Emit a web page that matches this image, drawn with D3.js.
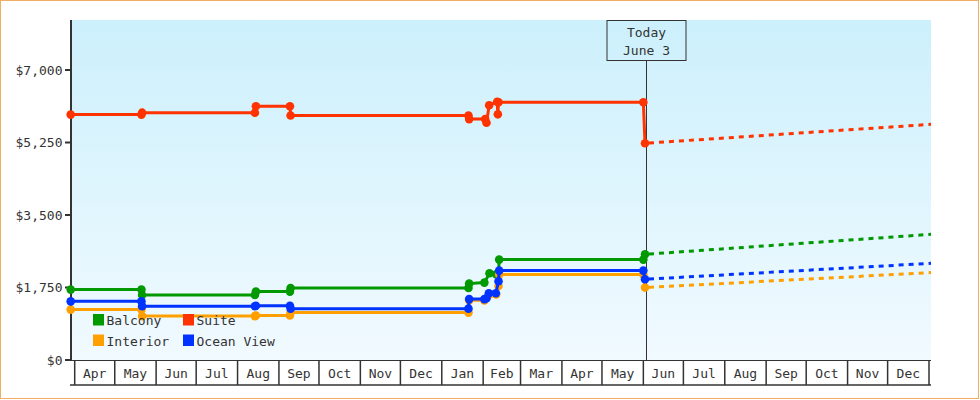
<!DOCTYPE html>
<html>
<head>
<meta charset="utf-8">
<script src="https://cdn.jsdelivr.net/npm/d3@7"></script>
<style>
  html, body { margin: 0; padding: 0; background: #fff; }
  svg { display: block; }
  text { font-family: "DejaVu Sans Mono", monospace; font-size: 13px; fill: #333; }
</style>
</head>
<body>
<svg id="chart" width="980" height="400"></svg>
<script>
// ---------------- DATA ----------------
const seriesNames = ["Balcony", "Suite", "Interior", "Ocean View"];

const balconyPrices = [
  ["2022-03-29 00", 1699], ["2022-05-21 00", 1699], ["2022-05-21 12", 1569],
  ["2022-08-14 00", 1569], ["2022-08-14 18", 1651], ["2022-09-09 06", 1651],
  ["2022-09-09 18", 1738], ["2023-01-21 00", 1738], ["2023-01-21 12", 1844],
  ["2023-02-01 22", 1868], ["2023-02-05 18", 2094], ["2023-02-10 18", 2070],
  ["2023-02-12 12", 2070], ["2023-02-13 00", 2423], ["2023-06-01 00", 2423],
  ["2023-06-02 06", 2551]
];
const suitePrices = [
  ["2022-03-29 00", 5923], ["2022-05-21 00", 5923], ["2022-05-21 12", 5970],
  ["2022-08-14 00", 5970], ["2022-08-14 18", 6125], ["2022-09-09 06", 6125],
  ["2022-09-09 18", 5900], ["2023-01-21 00", 5900], ["2023-01-21 12", 5815],
  ["2023-02-02 12", 5815], ["2023-02-03 12", 5725], ["2023-02-05 12", 6150],
  ["2023-02-11 12", 6235], ["2023-02-12 00", 5930], ["2023-02-12 12", 6220],
  ["2023-06-01 00", 6220], ["2023-06-02 06", 5231]
];
const interiorPrices = [
  ["2022-03-29 00", 1216], ["2022-05-21 00", 1216], ["2022-05-21 12", 1060],
  ["2022-08-14 00", 1060], ["2022-08-14 18", 1075], ["2022-09-09 06", 1075],
  ["2022-09-09 18", 1144], ["2023-01-21 00", 1144], ["2023-01-21 12", 1440],
  ["2023-02-01 22", 1440], ["2023-02-05 18", 1580], ["2023-02-10 18", 1580],
  ["2023-02-12 12", 1788], ["2023-02-13 00", 2061], ["2023-06-01 00", 2061],
  ["2023-06-02 06", 1748]
];
const oceanViewPrices = [
  ["2022-03-29 00", 1416], ["2022-05-21 00", 1416], ["2022-05-21 12", 1296],
  ["2022-08-14 00", 1296], ["2022-08-14 18", 1310], ["2022-09-09 06", 1310],
  ["2022-09-09 18", 1240], ["2023-01-21 00", 1240], ["2023-01-21 12", 1470],
  ["2023-02-01 22", 1470], ["2023-02-03 12", 1490], ["2023-02-05 06", 1610],
  ["2023-02-10 12", 1610], ["2023-02-12 12", 1900], ["2023-02-13 00", 2158],
  ["2023-06-01 00", 2158], ["2023-06-02 06", 1948]
];

const balconyForecast   = [["2023-06-02 06", 2551], ["2024-01-02 12", 3034]];
const suiteForecast     = [["2023-06-02 06", 5231], ["2024-01-02 12", 5689]];
const interiorForecast  = [["2023-06-02 06", 1748], ["2024-01-02 12", 2110]];
const oceanViewForecast = [["2023-06-02 06", 1948], ["2024-01-02 12", 2334]];

const yTicks = [0, 1750, 3500, 5250, 7000];
const todayDate = "2023-06-03 00";
const todayLabel = ["Today", "June 3"];
const monthStart = "2022-04-01 00";
const monthEnd = "2024-01-01 00";

// ---------------- STYLE ----------------
const colors = ["#009900", "#ff3300", "#ff9f00", "#0033ff"];

// ---------------- CHART ----------------
const parse = d3.timeParse("%Y-%m-%d %H");
const svg = d3.select("#chart");

const plot = { left: 71, right: 931, top: 20, bottom: 360 };

const x = d3.scaleTime()
  .domain([parse(monthStart), parse(monthEnd)])
  .range([74.7, 929]);
const y = d3.scaleLinear().domain([0, 8207]).range([360, 20]);

// outer border
svg.append("rect").attr("x", 0.5).attr("y", 0.5).attr("width", 978).attr("height", 398)
  .attr("fill", "#fff").attr("stroke", "#f0ae62").attr("stroke-width", 1);

// background gradient
const defs = svg.append("defs");
const grad = defs.append("linearGradient").attr("id", "bg").attr("x1", 0).attr("y1", 0).attr("x2", 0).attr("y2", 1);
grad.append("stop").attr("offset", "0%").attr("stop-color", "#ccf0fc");
grad.append("stop").attr("offset", "100%").attr("stop-color", "#f1faff");
svg.append("rect").attr("x", plot.left).attr("y", plot.top)
  .attr("width", plot.right - plot.left).attr("height", plot.bottom - plot.top)
  .attr("fill", "url(#bg)");

// month band (x axis)
const months = d3.timeMonth.range(parse(monthStart), parse(monthEnd));
const band = svg.append("g");
band.append("line").attr("x1", 70).attr("x2", plot.right).attr("y1", 360.5).attr("y2", 360.5)
  .attr("stroke", "#333").attr("stroke-width", 1);
band.append("line").attr("x1", 70).attr("x2", plot.right).attr("y1", 385).attr("y2", 385)
  .attr("stroke", "#333").attr("stroke-width", 1.5);
const bounds = months.concat([parse(monthEnd)]);
band.selectAll("line.sep").data(bounds).join("line").attr("class", "sep")
  .attr("x1", d => x(d)).attr("x2", d => x(d)).attr("y1", 360).attr("y2", 385)
  .attr("stroke", "#333").attr("stroke-width", 1.5);
const fmt = d3.timeFormat("%b");
band.selectAll("text").data(months).join("text")
  .attr("x", d => (x(d) + x(d3.timeMonth.offset(d, 1))) / 2)
  .attr("y", 377.5).attr("text-anchor", "middle").text(d => fmt(d));

// y axis
const yAxis = svg.append("g");
yAxis.append("line").attr("x1", 71).attr("x2", 71).attr("y1", plot.top).attr("y2", 361)
  .attr("stroke", "#333").attr("stroke-width", 2);
yAxis.selectAll("line.tick").data(yTicks).join("line").attr("class", "tick")
  .attr("x1", 65).attr("x2", 71).attr("y1", d => y(d)).attr("y2", d => y(d))
  .attr("stroke", "#333").attr("stroke-width", 2);
const money = d3.format("$,");
yAxis.selectAll("text").data(yTicks).join("text")
  .attr("x", 62.5).attr("y", d => y(d) + 4.5).attr("text-anchor", "end").text(d => money(d));

// today marker
const tx = Math.round(x(parse(todayDate))) + 0.5;
svg.append("line").attr("x1", tx).attr("x2", tx).attr("y1", 60).attr("y2", 360)
  .attr("stroke", "#333").attr("stroke-width", 1);
svg.append("rect").attr("x", tx - 39.5).attr("y", 20.5).attr("width", 79).attr("height", 40)
  .attr("fill", "none").attr("stroke", "#333").attr("stroke-width", 1);
svg.append("text").attr("x", tx).attr("y", 37).attr("text-anchor", "middle").text(todayLabel[0]);
svg.append("text").attr("x", tx).attr("y", 55).attr("text-anchor", "middle").text(todayLabel[1]);

// series
const histories = [balconyPrices, suitePrices, interiorPrices, oceanViewPrices];
const forecasts = [balconyForecast, suiteForecast, interiorForecast, oceanViewForecast];
const line = d3.line().x(d => x(parse(d[0]))).y(d => y(d[1]));

seriesNames.forEach((name, i) => {
  const g = svg.append("g");
  g.append("path").attr("d", line(forecasts[i])).attr("fill", "none")
    .attr("stroke", colors[i]).attr("stroke-width", 3).attr("stroke-dasharray", "5,5")
    .attr("stroke-dashoffset", -4);
  g.append("path").attr("d", line(histories[i])).attr("fill", "none")
    .attr("stroke", colors[i]).attr("stroke-width", 3).attr("stroke-linejoin", "miter");
  g.selectAll("circle").data(histories[i]).join("circle")
    .attr("cx", d => x(parse(d[0]))).attr("cy", d => y(d[1])).attr("r", 4.3)
    .attr("fill", colors[i]);
});

// legend
const legendPos = [[93, 314], [183, 314], [93, 334.5], [183, 334.5]];
seriesNames.forEach((name, i) => {
  const [lx, ly] = legendPos[i];
  svg.append("rect").attr("x", lx).attr("y", ly).attr("width", 11).attr("height", 11.5)
    .attr("fill", colors[i]);
  svg.append("text").attr("x", lx + 13.5).attr("y", ly + 11).text(name);
});
</script>
</body>
</html>
